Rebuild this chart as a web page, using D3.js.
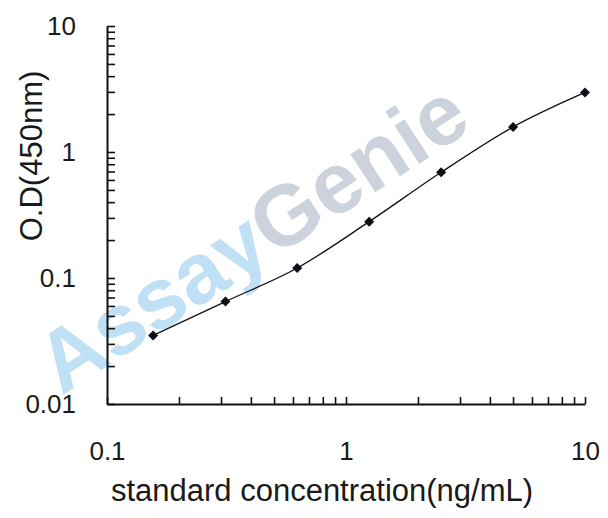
<!doctype html>
<html lang="en">
<head>
<meta charset="UTF-8" />
<title>Standard curve</title>
<script src="https://cdn.jsdelivr.net/npm/d3@7"></script>
<style>
  html, body { margin: 0; padding: 0; background: #fff; }
  svg text { font-family: "Liberation Sans", Arial, sans-serif; fill: #1a1a1a; }
</style>
</head>
<body>
<div id="chart"></div>
<script>
  // standard curve points
  const concentration = [0.156, 0.313, 0.625, 1.25, 2.5, 5, 10];
  const od450 = [0.035, 0.065, 0.12, 0.28, 0.69, 1.58, 2.97];

  const xDecades = [0.1, 1, 10];
  const yDecades = [0.01, 0.1, 1, 10];
  const xTitle = "standard concentration(ng/mL)";
  const yTitle = "O.D(450nm)";

  const width = 608;
  const height = 518;
  const marginLeft = 107;
  const marginRight = 23;
  const marginTop = 26;
  const marginBottom = 114;

  const x = d3.scaleLog()
      .domain([0.1, 10])
      .range([marginLeft, width - marginRight]);

  const y = d3.scaleLog()
      .domain([0.01, 10])
      .range([height - marginBottom, marginTop]);

  // every 1..9 step within each decade, labels only on the decades
  function minorTicks(domain) {
    const out = [];
    for (let d = domain[0]; d < domain[1] * 0.999; d *= 10) {
      for (let k = 1; k < 10; k++) out.push(d * k);
    }
    out.push(domain[1]);
    return out;
  }
  const fmt = (decades) => (v) => decades.some(d => Math.abs(d - v) < d * 1e-6) ? String(+v.toPrecision(3)) : "";

  const svg = d3.select("#chart").append("svg")
      .attr("width", width)
      .attr("height", height);

  // watermark
  const wm = svg.append("text")
      .attr("transform", "translate(268,262) rotate(-33)")
      .attr("text-anchor", "middle")
      .style("font-size", "86px")
      .style("font-weight", "bold");
  wm.append("tspan").text("Assay").style("fill", "#bfe0f5");
  wm.append("tspan").text("Genie").style("fill", "#ccd3dc");

  // x axis
  const xAxis = svg.append("g")
      .attr("transform", `translate(0,${height - marginBottom})`)
      .call(d3.axisBottom(x)
        .tickValues(minorTicks(x.domain()))
        .tickFormat(fmt(xDecades))
        .tickSizeInner(-7)
        .tickSizeOuter(0)
        .tickPadding(38));

  // y axis
  const yAxis = svg.append("g")
      .attr("transform", `translate(${marginLeft},0)`)
      .call(d3.axisLeft(y)
        .tickValues(minorTicks(y.domain()))
        .tickFormat(fmt(yDecades))
        .tickSizeInner(-8)
        .tickSizeOuter(0)
        .tickPadding(31));

  [xAxis, yAxis].forEach(g => {
    g.select(".domain").attr("stroke", "#111").attr("stroke-width", 2);
    g.selectAll(".tick line").attr("stroke", "#111").attr("stroke-width", 1.6);
    g.selectAll(".tick text").style("font-size", "26px").attr("fill", "#1a1a1a");
  });

  // axis titles
  svg.append("text")
      .attr("x", 322)
      .attr("y", 501)
      .attr("text-anchor", "middle")
      .style("font-size", "31px")
      .text(xTitle);

  svg.append("text")
      .attr("transform", "translate(42,156) rotate(-90)")
      .attr("text-anchor", "middle")
      .style("font-size", "31px")
      .text(yTitle);

  // fitted curve
  const pts = concentration.map((c, i) => [x(c), y(od450[i])]);
  svg.append("path")
      .datum(pts)
      .attr("fill", "none")
      .attr("stroke", "#111")
      .attr("stroke-width", 1.3)
      .attr("d", d3.line().curve(d3.curveMonotoneX));

  svg.selectAll(".pt")
      .data(pts)
      .enter()
      .append("path")
      .attr("class", "pt")
      .attr("transform", d => `translate(${d[0]},${d[1]})`)
      .attr("d", d3.symbol(d3.symbolDiamond2, 64))
      .attr("fill", "#0d0d14");
</script>
</body>
</html>
